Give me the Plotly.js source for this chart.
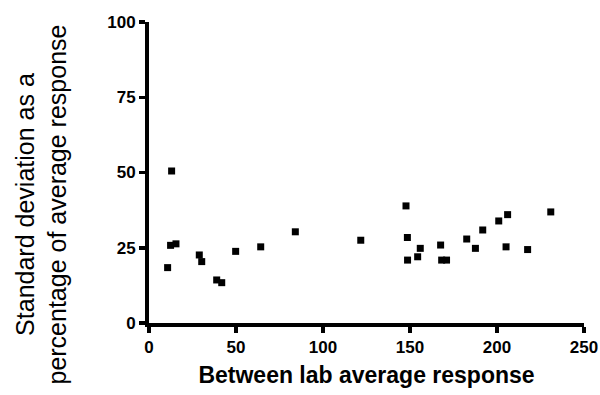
<!DOCTYPE html>
<html>
<head>
<meta charset="utf-8">
<script src="https://cdn.plot.ly/plotly-3.0.1.min.js"></script>
<style>html,body{margin:0;padding:0;background:#fff;}#chart{width:600px;height:395px;}</style>
</head>
<body>
<div id="chart"></div>
<script>
var avgResponse = [10.7, 12.4, 13.0, 15.5, 28.9, 30.3, 38.9, 41.8, 49.8, 64.2, 84.1, 121.7, 147.7, 148.5, 148.6, 154.4, 155.9, 167.6, 168.2, 171.0, 182.6, 187.6, 191.8, 201.0, 205.2, 206.1, 217.6, 230.9];
var sdPercent   = [18.4, 25.8, 50.5, 26.3, 22.6, 20.4, 14.3, 13.4, 23.8, 25.3, 30.3, 27.5, 38.9, 28.4, 20.9, 22.0, 24.8, 25.9, 20.9, 20.9, 27.9, 24.8, 30.9, 33.9, 25.3, 36.0, 24.4, 36.9];
var xTicks = [0, 50, 100, 150, 200, 250];
var yTicks = [0, 25, 50, 75, 100];
var xTitle = "Between lab average response";
var yTitle = "Standard deviation as a<br>percentage of average response";

var FONT = "Liberation Sans, Arial, Helvetica, sans-serif";

var trace = {
  x: avgResponse,
  y: sdPercent,
  type: "scatter",
  mode: "markers",
  marker: {symbol: "square", size: 7, color: "#000"},
  hoverinfo: "x+y"
};

var layout = {
  width: 600, height: 395,
  margin: {l: 149, r: 16, t: 22, b: 72},
  paper_bgcolor: "#fff", plot_bgcolor: "#fff",
  showlegend: false,
  font: {family: FONT, color: "#000"},
  xaxis: {
    range: [0, 250], tickvals: xTicks, ticktext: xTicks.map(String),
    showgrid: false, zeroline: false, showline: true, linewidth: 4, linecolor: "#000",
    ticks: "outside", ticklen: 6, tickwidth: 3.5, tickcolor: "#000",
    tickfont: {family: FONT, size: 17, color: "#000", weight: "bold"},
    title: {text: xTitle, font: {family: FONT, size: 23, color: "#000", weight: "bold"}, standoff: 11}
  },
  yaxis: {
    range: [0, 100], tickvals: yTicks, ticktext: yTicks.map(String),
    showgrid: false, zeroline: false, showline: true, linewidth: 4, linecolor: "#000",
    ticks: "outside", ticklen: 6, tickwidth: 3.5, tickcolor: "#000",
    tickfont: {family: FONT, size: 17, color: "#000", weight: "bold"}
  },
  annotations: [{
    text: yTitle, xref: "paper", yref: "paper",
    x: -0.2494, y: 0.392, xanchor: "center", yanchor: "middle",
    textangle: -90, showarrow: false,
    font: {family: FONT, size: 25, color: "#000"}
  }]
};

Plotly.newPlot("chart", [trace], layout, {displayModeBar: false, staticPlot: true});
</script>
</body>
</html>
